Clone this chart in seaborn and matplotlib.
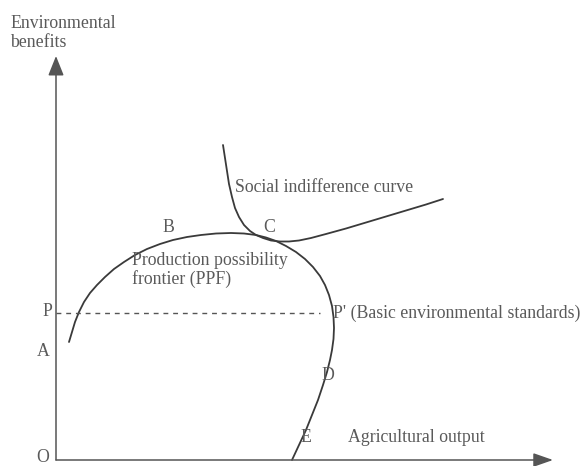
import matplotlib
matplotlib.use("Agg")
import matplotlib.pyplot as plt
import seaborn as sns

# ---- data (origin O at the axes corner; units = output / benefits) ----
ppf_x = [13, 16, 19, 23, 28, 34, 41, 49, 58, 68, 79, 91, 104, 117, 131, 145, 160, 175, 188, 200,
         210, 220, 230, 240, 249, 257, 264, 269, 273, 276, 277.5, 278, 277.5, 276, 274, 271, 267,
         262, 256, 250, 243, 236]
ppf_y = [118, 128, 138, 148, 158, 167, 175, 183, 191, 198, 205, 211, 216, 220, 223, 225, 226.5, 227,
         226.5, 225, 222.5, 219, 214, 208, 201, 193, 184, 175, 165, 154, 143, 132, 121, 110, 100,
         88, 75, 60, 45, 30, 15, 0]

ic_x = [167, 169, 171, 173, 176, 179, 183, 188, 194, 200, 207, 215, 224, 233, 243, 255, 270, 290,
        310, 330, 350, 370, 387]
ic_y = [315, 302, 289, 276, 263, 252, 243, 235, 229, 225, 222, 219.5, 218.5, 218.5, 219.5, 222,
        226, 231.5, 237.5, 243.5, 249.5, 255.5, 261]

std_level = 147          # basic environmental standard (P - P')
std_x_end = 264

point_labels = ["O", "A", "P", "B", "C", "D", "E"]
point_x = [-13, -13, -9, 112, 213, 272, 250]
point_y = [3, 108, 148, 233, 232, 85, 23]

sns.set_theme(style="white")
plt.rcParams['font.family'] = ['Liberation Serif', 'DejaVu Serif']

fig = plt.figure(figsize=(5.85, 4.66), dpi=100)
ax = fig.add_axes([0, 0, 1, 1])
ax.set_xlim(-56, 529)
ax.set_ylim(-6, 460)
ax.axis("off")

line_col = "#3a3a3a"
axis_col = "#555555"
text_col = "#5a5a5a"
fs = 12.8

# axes with arrows
ax.annotate("", xy=(0, 404), xytext=(0, 0),
            arrowprops=dict(arrowstyle="-|>,head_length=1.0,head_width=0.4", color=axis_col,
                            lw=1.1, shrinkA=0, shrinkB=0))
ax.annotate("", xy=(497, 0), xytext=(0, 0),
            arrowprops=dict(arrowstyle="-|>,head_length=1.0,head_width=0.35", color=axis_col,
                            lw=1.1, shrinkA=0, shrinkB=0))

# curves
sns.lineplot(x=ppf_x, y=ppf_y, sort=False, estimator=None, ax=ax, color=line_col, lw=1.3)
sns.lineplot(x=ic_x, y=ic_y, sort=False, estimator=None, ax=ax, color=line_col, lw=1.3)

# basic standard dashed line
ax.plot([0, std_x_end], [std_level, std_level], color=axis_col, lw=1.0, ls=(0, (3.5, 3.5)))

for lab, x, y in zip(point_labels, point_x, point_y):
    ax.text(x, y, lab, color=text_col, fontsize=fs, ha="center", va="center")

ax.text(277, std_level, "P' (Basic environmental standards)", color=text_col, fontsize=fs,
        ha="left", va="center")
ax.text(179, 272, "Social indifference curve", color=text_col, fontsize=fs, ha="left", va="center")
ax.text(76, 190, "Production possibility\nfrontier (PPF)", color=text_col, fontsize=fs,
        ha="left", va="center", linespacing=1.1)
ax.text(292, 23, "Agricultural output", color=text_col, fontsize=fs, ha="left", va="center")
ax.text(-46, 427, "Environmental\nbenefits", color=text_col, fontsize=fs, ha="left", va="center",
        linespacing=1.2)

fig.savefig("out.png", dpi=100, facecolor="white")
